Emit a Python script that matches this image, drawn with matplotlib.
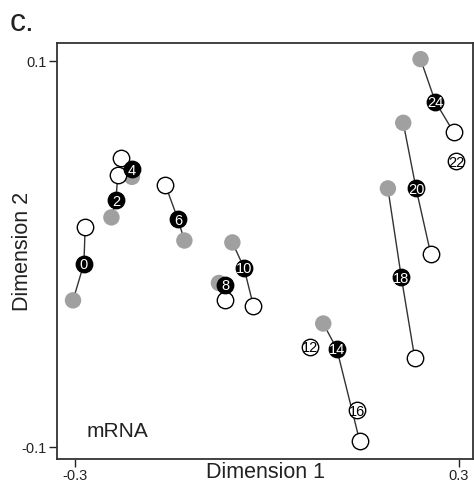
import matplotlib
matplotlib.use('Agg')
import matplotlib.pyplot as plt

plt.rcParams['font.family'] = ['Liberation Sans', 'DejaVu Sans']

# Time point labels (hours) for the labelled black points
times = ['0', '2', '4', '6', '8', '10', '14', '18', '20', '24']
black_x = [-0.286, -0.236, -0.211, -0.139, -0.065, -0.036, 0.109, 0.210, 0.233, 0.263]
black_y = [-0.005, 0.028, 0.044, 0.018, -0.016, -0.007, -0.049, -0.012, 0.034, 0.079]
gray_x = [-0.303, -0.243, -0.211, -0.129, -0.075, -0.054, 0.088, 0.189, 0.213, 0.240]
gray_y = [-0.024, 0.019, 0.040, 0.007, -0.015, 0.006, -0.036, 0.034, 0.068, 0.101]
white_x = [-0.284, -0.233, -0.228, -0.159, -0.065, -0.021, 0.145, 0.231, 0.256, 0.292]
white_y = [0.014, 0.041, 0.050, 0.036, -0.024, -0.027, -0.097, -0.054, 0.000, 0.063]

# Labelled white points without a trajectory
solo_labels = ['12', '16', '22']
solo_x = [0.067, 0.141, 0.296]
solo_y = [-0.048, -0.081, 0.048]

fig = plt.figure(figsize=(4.74, 4.87), dpi=100)
ax = fig.add_axes([0.1203, 0.0575, 0.8776, 0.854])

gray = '#a0a0a0'
ms = 140

for i in range(len(times)):
    ax.plot([gray_x[i], black_x[i], white_x[i]], [gray_y[i], black_y[i], white_y[i]],
            color='#333333', lw=1.0, zorder=1)

ax.scatter(gray_x, gray_y, s=ms, c=gray, edgecolors='none', zorder=2)
ax.scatter(white_x, white_y, s=ms, c='white', edgecolors='black', linewidths=1.0, zorder=3)
ax.scatter(black_x, black_y, s=ms, c='black', edgecolors='black', linewidths=1.0, zorder=4)
ax.scatter(solo_x, solo_y, s=ms, c='white', edgecolors='black', linewidths=1.0, zorder=3)

for x, y, t in zip(black_x, black_y, times):
    ax.text(x, y, t, color='white', fontsize=10.5, ha='center', va='center_baseline', zorder=5)
for x, y, t in zip(solo_x, solo_y, solo_labels):
    ax.text(x, y, t, color='black', fontsize=10.5, ha='center', va='center_baseline', zorder=5)

ax.set_xlim(-0.328, 0.322)
ax.set_ylim(-0.1062, 0.1093)
ax.set_xticks([-0.3, 0.3])
ax.set_xticklabels(['-0.3', '0.3'])
ax.set_yticks([-0.1, 0.1])
ax.set_yticklabels(['-0.1', '0.1'])
ax.tick_params(direction='out', length=5.5, width=1, labelsize=10.5, colors='#222222', pad=2)
for sp in ax.spines.values():
    sp.set_color('#333333')
    sp.set_linewidth(1.3)

ax.set_xlabel('Dimension 1', fontsize=15.5, color='#222222', va='baseline')
ax.xaxis.set_label_coords(0.5, -0.0457)
ax.set_ylabel('Dimension 2', fontsize=15.5, color='#222222', va='center')
ax.yaxis.set_label_coords(-0.0825, 0.5)

ax.text(0.072, 0.053, 'mRNA', transform=ax.transAxes, fontsize=15, color='#222222')
fig.text(0.02, 0.936, 'c.', fontsize=23, color='#222222')

fig.savefig('out.png', dpi=100)
